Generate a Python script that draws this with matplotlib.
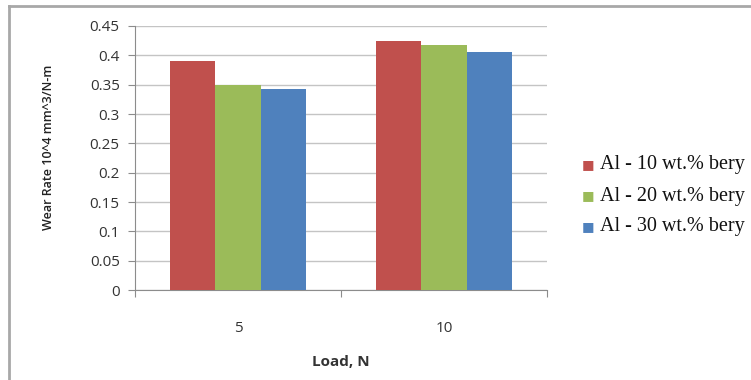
import numpy as np
import matplotlib.pyplot as plt
from matplotlib.lines import Line2D

# data
loads = ['5', '10']
# legend text as visible in the source (cut off at the right edge there)
series = ['Al - 10 wt.% bery', 'Al - 20 wt.% bery', 'Al - 30 wt.% bery']
wt10 = [0.390, 0.425]
wt20 = [0.350, 0.417]
wt30 = [0.343, 0.405]
yticks = [0, 0.05, 0.1, 0.15, 0.2, 0.25, 0.3, 0.35, 0.4, 0.45]
colors = ['#C0504D', '#9BBB59', '#4F81BD']

fig = plt.figure(figsize=(7.51, 3.80), dpi=100)
ax = fig.add_axes([135 / 751, 1 - 290 / 380, 412 / 751, 264 / 380])

x = np.arange(len(loads))
w = 0.22
for i, (vals, c, name) in enumerate(zip([wt10, wt20, wt30], colors, series)):
    ax.bar(x + (i - 1) * w, vals, width=w, color=c, label=name, zorder=3)

ax.set_xlim(-0.5, 1.5)
ax.set_ylim(0, 0.45)
ax.set_yticks(yticks)
ax.set_yticklabels(['0', '0.05', '0.1', '0.15', '0.2', '0.25', '0.3', '0.35', '0.4', '0.45'])
ax.yaxis.grid(True, color='#C4C4C4', linewidth=1.0, zorder=0)

# category boundary ticks, labels in the middle
ax.set_xticks([-0.5, 0.5, 1.5])
ax.set_xticklabels([])
ax.set_xticks(x, minor=True)
ax.set_xticklabels(loads, minor=True)
ax.tick_params(axis='x', which='minor', length=0, pad=22)
ax.tick_params(axis='x', which='major', length=5, color='#8C8C8C')
ax.tick_params(axis='y', length=5, color='#8C8C8C', pad=6)
for lab in ax.get_xticklabels(minor=True) + ax.get_yticklabels():
    lab.set_fontfamily('Open Sans')
    lab.set_fontsize(11)
    lab.set_color('#333333')

for s in ['top', 'right']:
    ax.spines[s].set_visible(False)
ax.spines['left'].set_color('#8C8C8C')
ax.spines['bottom'].set_color('#8C8C8C')

fig.text(341 / 751, 1 - 362 / 380, 'Load, N', ha='center', va='center',
         fontfamily='Open Sans', fontweight='bold', fontsize=11, color='#333333')
fig.text(49 / 751, 1 - 147 / 380, 'Wear Rate 10^4 mm^3/N-m', ha='center', va='center',
         rotation=90, fontfamily='Open Sans', fontweight='semibold', fontsize=9, color='#222222')

# legend drawn manually
for i, (name, c) in enumerate(zip(series, colors)):
    yy = 1 - (165 + 31 * i) / 380
    fig.text(582 / 751, yy, '\u25A0', color=c, fontsize=9.5, ha='left', va='center',
             fontfamily='DejaVu Sans')
    fig.text(600 / 751, yy, name, fontsize=14.5, ha='left', va='center',
             fontfamily='Liberation Serif', color='#111111')

# outer frame
fig.add_artist(Line2D([9 / 751, 9 / 751], [0, 1 - 6 / 380], transform=fig.transFigure,
                      color='#A8A8A8', linewidth=2))
fig.add_artist(Line2D([9 / 751, 1], [1 - 6 / 380, 1 - 6 / 380], transform=fig.transFigure,
                      color='#A8A8A8', linewidth=2))

fig.savefig('out.png', dpi=100)
